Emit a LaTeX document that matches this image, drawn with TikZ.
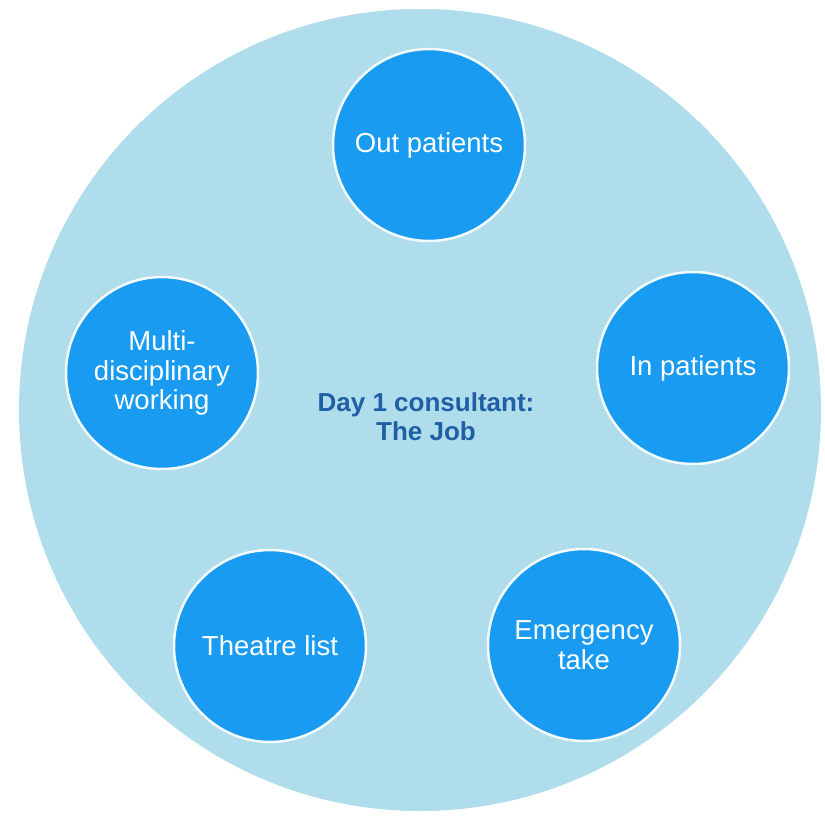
\documentclass[tikz,border=0pt]{standalone}
\usepackage{fontspec}
\setmainfont{Liberation Sans}
\definecolor{bigfill}{RGB}{176,221,235}
\definecolor{smallfill}{RGB}{24,155,240}
\definecolor{centertext}{RGB}{30,95,165}
\begin{document}
\begin{tikzpicture}[x=1pt,y=-1pt,
  topic/.style={circle,fill=smallfill,draw=white!95!smallfill,line width=2.5pt,
    minimum size=192pt,inner sep=0pt,text=white,align=center,
    font=\fontsize{27.5}{29.5}\selectfont},
  hub/.style={circle,fill=bigfill,minimum size=802pt,inner sep=0pt}]
\useasboundingbox (0,0) rectangle (825,822);
\fill[white] (0,0) rectangle (825,822);
\node[hub] (hub) at (420,410) {};
\node[text=centertext,align=center,font=\bfseries\fontsize{26}{29}\selectfont] (title) at (426,417) {Day 1 consultant:\\The Job};
\node[topic] (out) at (429,145) {Out patients};
\node[topic] (in) at (693,368) {In patients};
\node[topic] (emer) at (584,645) {Emergency\\take};
\node[topic] (theatre) at (270,646) {Theatre list};
\node[topic] (multi) at (162,373) {Multi-\\disciplinary\\working};
\end{tikzpicture}
\end{document}
